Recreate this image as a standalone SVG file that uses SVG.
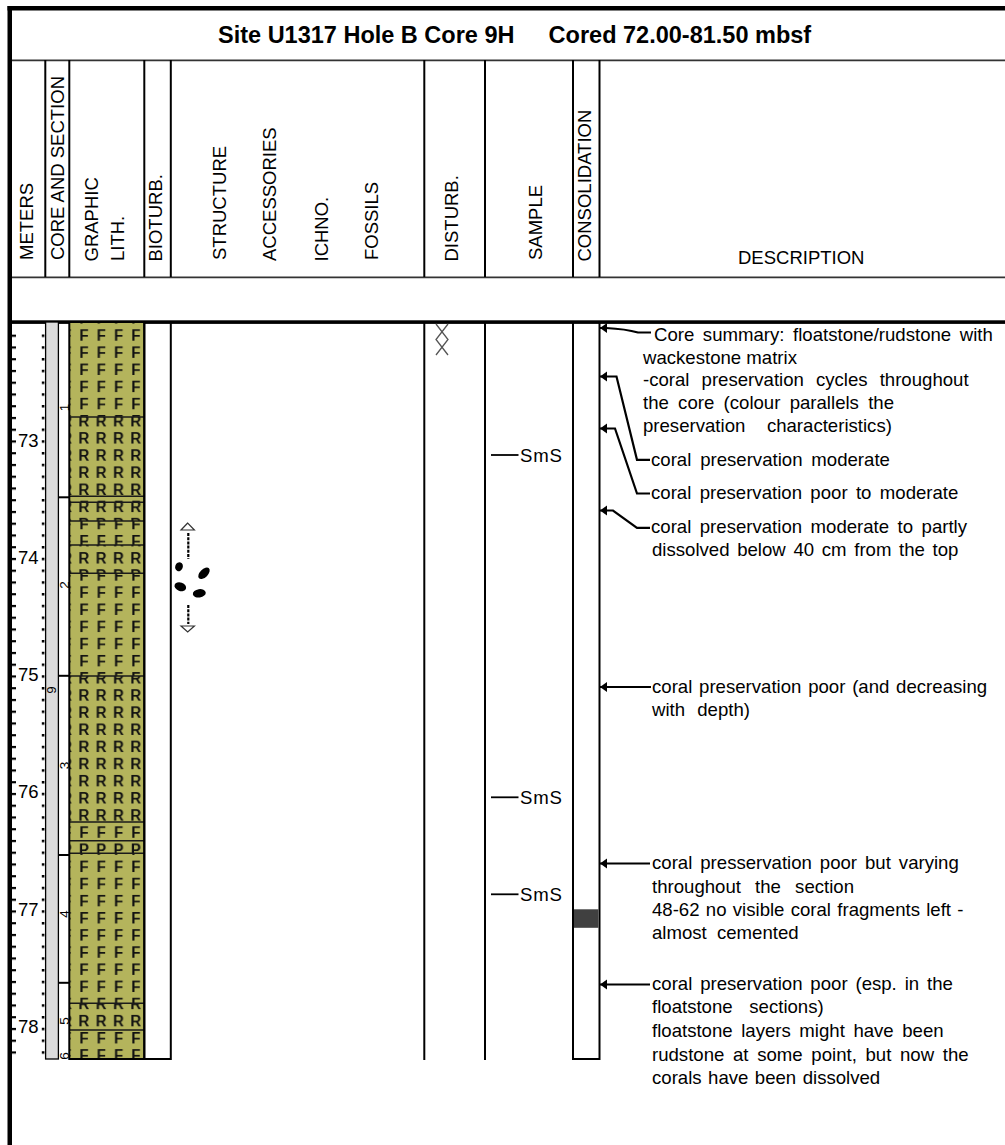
<svg xmlns="http://www.w3.org/2000/svg" width="1005" height="1145" viewBox="0 0 1005 1145">
<style>
.t{font-family:"Liberation Sans",Arial,Helvetica,sans-serif;fill:#000}
.hdr{font-size:18.5px}
.ttl{font-size:23.5px;font-weight:bold}
.desc{font-size:18.6px}
.sec{font-size:13.5px}
.ln{stroke:#000;stroke-width:2;fill:none}
.hl{stroke:#333;stroke-width:1.8;fill:none}
.lay{stroke:#1a1a1a;stroke-width:1.5;fill:none}
.lead{stroke:#000;stroke-width:2.2;fill:none;marker-start:url(#arr)}
.pl{font-family:"Liberation Sans",Arial,sans-serif;font-size:15px;font-weight:bold;fill:#111;text-anchor:middle}
</style>
<defs>
<pattern id="patF" patternUnits="userSpaceOnUse" x="75.35" y="326.43" width="17.3" height="17.14">
<rect width="17.3" height="17.14" fill="#b4b45c"/><text class="pl" x="8.65" y="13.9">F</text>
</pattern>
<pattern id="patR" patternUnits="userSpaceOnUse" x="75.35" y="326.43" width="17.3" height="17.14">
<rect width="17.3" height="17.14" fill="#b4b45c"/><text class="pl" x="8.65" y="13.9">R</text>
</pattern>
<pattern id="patP" patternUnits="userSpaceOnUse" x="75.35" y="326.43" width="17.3" height="17.14">
<rect width="17.3" height="17.14" fill="#b4b45c"/><text class="pl" x="8.65" y="13.9">P</text>
</pattern>
<pattern id="tickL" patternUnits="userSpaceOnUse" x="0" y="322.9" width="20" height="11.75">
<rect x="0" y="0" width="20" height="2.2" fill="#000"/>
</pattern>
<pattern id="tickR" patternUnits="userSpaceOnUse" x="0" y="322.75" width="20" height="11.75">
<rect x="0" y="0" width="20" height="2.5" fill="#000"/>
</pattern>
<marker id="arr" markerUnits="userSpaceOnUse" markerWidth="8" markerHeight="11" refX="0" refY="5.5" orient="0" viewBox="0 0 8 11">
<path d="M7,0.5 L0,5.5 L7,10.5 Z" fill="#000"/>
</marker>
</defs>
<rect width="1005" height="1145" fill="#fff"/>

<g id="frame">
<rect x="7.5" y="6" width="997.5" height="4.5" fill="#000"/>
<rect x="7.5" y="6" width="4.5" height="1139" fill="#000"/>
<line class="hl" x1="12" y1="60.3" x2="1005" y2="60.3"/>
<line class="hl" x1="12" y1="277.3" x2="1005" y2="277.3"/>
<rect x="12" y="320.3" width="993" height="3.6" fill="#000"/>
</g>

<g id="title">
<text class="t ttl" x="218" y="42.5">Site U1317 Hole B Core 9H</text>
<text class="t ttl" x="548.6" y="42.5">Cored 72.00-81.50 mbsf</text>
</g>

<g id="header">
<g class="ln">
<line x1="45.3" y1="60" x2="45.3" y2="277"/>
<line x1="69.3" y1="60" x2="69.3" y2="277"/>
<line x1="144.3" y1="60" x2="144.3" y2="277"/>
<line x1="170.8" y1="60" x2="170.8" y2="277"/>
<line x1="424.3" y1="60" x2="424.3" y2="277"/>
<line x1="485" y1="60" x2="485" y2="277"/>
<line x1="573" y1="60" x2="573" y2="277"/>
<line x1="599.5" y1="60" x2="599.5" y2="277"/>
</g>
<g class="t hdr">
<text transform="translate(33.3,260) rotate(-90)">METERS</text>
<text transform="translate(64,260) rotate(-90)">CORE AND SECTION</text>
<text transform="translate(98.3,261.5) rotate(-90)">GRAPHIC</text>
<text transform="translate(124.3,261) rotate(-90)">LITH.</text>
<text transform="translate(161.8,261.5) rotate(-90)">BIOTURB.</text>
<text transform="translate(226,260) rotate(-90)">STRUCTURE</text>
<text transform="translate(276,261) rotate(-90)">ACCESSORIES</text>
<text transform="translate(327.8,261.5) rotate(-90)">ICHNO.</text>
<text transform="translate(378.3,260) rotate(-90)">FOSSILS</text>
<text transform="translate(458,261.5) rotate(-90)">DISTURB.</text>
<text transform="translate(542,260) rotate(-90)">SAMPLE</text>
<text transform="translate(591,261.5) rotate(-90)">CONSOLIDATION</text>
<text x="738" y="264">DESCRIPTION</text>
</g>
</g>

<g id="col-meters">
<rect x="11" y="330" width="5" height="730" fill="url(#tickL)"/>
<rect x="41.8" y="330" width="2.6" height="730" fill="url(#tickR)"/>
<g class="t hdr" text-anchor="end">
<text x="38.5" y="446.5">73</text>
<text x="38.5" y="563.8">74</text>
<text x="38.5" y="681.1">75</text>
<text x="38.5" y="798.4">76</text>
<text x="38.5" y="915.7">77</text>
<text x="38.5" y="1033">78</text>
</g>
</g>

<g id="col-core">
<rect x="45.6" y="322" width="12.8" height="737" fill="#dcdcdc" stroke="#000" stroke-width="1.3"/>
<g class="ln">
<line x1="58.4" y1="497.3" x2="69.3" y2="497.3"/>
<line x1="58.4" y1="675.8" x2="69.3" y2="675.8"/>
<line x1="58.4" y1="855" x2="69.3" y2="855"/>
<line x1="58.4" y1="982.8" x2="69.3" y2="982.8"/>
</g>
<g class="t sec" text-anchor="middle">
<text transform="translate(55.8,690) rotate(-90)">9</text>
<text transform="translate(68.8,407.5) rotate(-90)">1</text>
<text transform="translate(68.8,585) rotate(-90)">2</text>
<text transform="translate(68.8,765.5) rotate(-90)">3</text>
<text transform="translate(68.8,914) rotate(-90)">4</text>
<text transform="translate(68.8,1021) rotate(-90)">5</text>
<text transform="translate(68.8,1056) rotate(-90)">6</text>
</g>
</g>

<g id="col-lith">
<rect x="69.3" y="322" width="75" height="95" fill="url(#patF)"/>
<rect x="69.3" y="417" width="75" height="79.3" fill="url(#patR)"/>
<rect x="69.3" y="496.3" width="75" height="6" fill="url(#patF)"/>
<rect x="69.3" y="502.3" width="75" height="18.7" fill="url(#patR)"/>
<rect x="69.3" y="521" width="75" height="24" fill="url(#patF)"/>
<rect x="69.3" y="545" width="75" height="28.3" fill="url(#patR)"/>
<rect x="69.3" y="573.3" width="75" height="102.7" fill="url(#patF)"/>
<rect x="69.3" y="676" width="75" height="146" fill="url(#patR)"/>
<rect x="69.3" y="822" width="75" height="18.7" fill="url(#patF)"/>
<rect x="69.3" y="840.7" width="75" height="12.6" fill="url(#patP)"/>
<rect x="69.3" y="853.3" width="75" height="150" fill="url(#patF)"/>
<rect x="69.3" y="1003.3" width="75" height="26.7" fill="url(#patR)"/>
<rect x="69.3" y="1030" width="75" height="29" fill="url(#patF)"/>
<g class="lay">
<line x1="69.3" y1="417" x2="144.3" y2="417"/>
<line x1="69.3" y1="496.3" x2="144.3" y2="496.3"/>
<line x1="69.3" y1="502.3" x2="144.3" y2="502.3"/>
<line x1="69.3" y1="521" x2="144.3" y2="521"/>
<line x1="69.3" y1="545" x2="144.3" y2="545"/>
<line x1="69.3" y1="573.3" x2="144.3" y2="573.3"/>
<line x1="69.3" y1="676" x2="144.3" y2="676"/>
<line x1="69.3" y1="822" x2="144.3" y2="822"/>
<line x1="69.3" y1="840.7" x2="144.3" y2="840.7"/>
<line x1="69.3" y1="853.3" x2="144.3" y2="853.3"/>
<line x1="69.3" y1="1003.3" x2="144.3" y2="1003.3"/>
<line x1="69.3" y1="1030" x2="144.3" y2="1030"/>
</g>
<rect x="69.3" y="322" width="75" height="737" class="ln"/>
</g>

<g id="col-bioturb">
<rect x="144.3" y="322" width="26.5" height="737" fill="#fff" class="ln"/>
</g>

<g id="structure-symbol">
<polygon points="187.7,523 181,530 194.4,530" fill="#fff" stroke="#333" stroke-width="1.2"/>
<line x1="188.3" y1="533" x2="188.3" y2="559" stroke="#000" stroke-width="2.2" stroke-dasharray="3 1.2"/>
<ellipse cx="179" cy="566.7" rx="3.8" ry="4.6" transform="rotate(20 179 566.7)" fill="#000"/>
<ellipse cx="204" cy="573.3" rx="7" ry="4" transform="rotate(-45 204 573.3)" fill="#000"/>
<ellipse cx="180.3" cy="586.7" rx="6" ry="4.3" transform="rotate(20 180.3 586.7)" fill="#000"/>
<ellipse cx="199.3" cy="593.3" rx="6.5" ry="4.2" transform="rotate(-8 199.3 593.3)" fill="#000"/>
<line x1="188.3" y1="605" x2="188.3" y2="624" stroke="#000" stroke-width="2.2" stroke-dasharray="3 1.2"/>
<polygon points="181,626 194.4,626 187.7,632" fill="#fff" stroke="#333" stroke-width="1.2"/>
</g>

<g id="col-disturb">
<line class="ln" x1="424.3" y1="322" x2="424.3" y2="1060"/>
<g stroke="#555" stroke-width="1.3" fill="none">
<polyline points="436,324 448,339.5 436,355"/>
<polyline points="448,324 436,339.5 448,355"/>
</g>
</g>

<g id="col-sample">
<line class="ln" x1="485" y1="322" x2="485" y2="1060"/>
<g stroke="#000" stroke-width="1.8">
<line x1="491" y1="455" x2="518.5" y2="455"/>
<line x1="491" y1="797.3" x2="518.5" y2="797.3"/>
<line x1="491" y1="894.3" x2="518.5" y2="894.3"/>
</g>
<g class="t desc" letter-spacing="0.8">
<text x="520" y="461.8">SmS</text>
<text x="520" y="804">SmS</text>
<text x="520" y="901">SmS</text>
</g>
</g>

<g id="col-consolidation">
<rect x="573" y="322" width="26.5" height="737" fill="#fff" class="ln"/>
<rect x="574" y="909.3" width="24.5" height="18.5" fill="#404040"/>
</g>

<g id="connectors">
<path class="lead" d="M600,328 L606,328 Q626,329 638,332.5 L651,332.5"/>
<path class="lead" d="M600,376.5 L616.5,376.5 L637,459.8 L650,459.8"/>
<path class="lead" d="M600,428.5 L615,428.5 L637,493.5 L650,493.5"/>
<path class="lead" d="M600,510.5 L613,510.5 L637,527.8 L650,527.8"/>
<path class="lead" d="M600,687 L651,687"/>
<path class="lead" d="M600,863.5 L650,863.5"/>
<path class="lead" d="M600,984.5 L650,984.5"/>
</g>

<g id="description" class="t desc">
<text x="654" y="341" style="word-spacing:3.4px">Core summary: floatstone/rudstone with</text>
<text x="643" y="363.5">wackestone matrix</text>
<text x="643" y="386" style="word-spacing:6.9px">-coral preservation cycles throughout</text>
<text x="643" y="408.5" style="word-spacing:4.1px">the core (colour parallels the</text>
<text x="643" y="431.5" style="word-spacing:16.4px">preservation characteristics)</text>
<text x="651" y="465.7" style="word-spacing:3.7px">coral preservation moderate</text>
<text x="651" y="499" style="word-spacing:3.2px">coral preservation poor to moderate</text>
<text x="651" y="533.3" style="word-spacing:3.3px">coral preservation moderate to partly</text>
<text x="652" y="555.7" style="word-spacing:2.5px">dissolved below 40 cm from the top</text>
<text x="652" y="692.5" style="word-spacing:1.6px">coral preservation poor (and decreasing</text>
<text x="652" y="715.5" style="word-spacing:7px">with depth)</text>
<text x="652" y="869.3" style="word-spacing:2.8px">coral presservation poor but varying</text>
<text x="652" y="893" style="word-spacing:9px">throughout the section</text>
<text x="652" y="916" style="word-spacing:1.1px">48-62 no visible coral fragments left -</text>
<text x="652" y="939" style="word-spacing:5px">almost cemented</text>
<text x="652" y="989.5" style="word-spacing:2.7px">coral preservation poor (esp. in the</text>
<text x="652" y="1012.7" style="word-spacing:11.5px">floatstone sections)</text>
<text x="652" y="1036.5" style="word-spacing:3.4px">floatstone layers might have been</text>
<text x="652" y="1060.5" style="word-spacing:3.5px">rudstone at some point, but now the</text>
<text x="652" y="1084" style="word-spacing:1.3px">corals have been dissolved</text>
</g>
</svg>
